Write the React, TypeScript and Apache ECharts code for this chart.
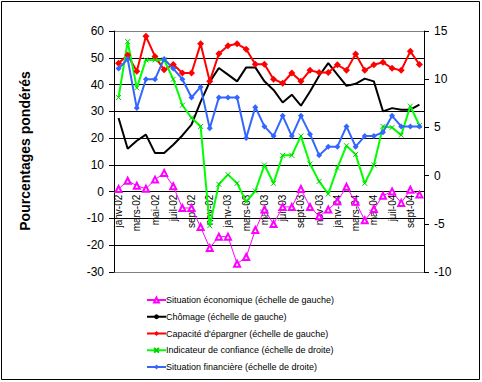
import React, { useEffect, useRef } from "react";
import * as echarts from "echarts";

const categories = [
  "janv-02", "févr-02", "mars-02", "avr-02", "mai-02", "juin-02", "juil-02", "août-02", "sept-02", "oct-02", "nov-02", "déc-02",
  "janv-03", "févr-03", "mars-03", "avr-03", "mai-03", "juin-03", "juil-03", "août-03", "sept-03", "oct-03", "nov-03", "déc-03",
  "janv-04", "févr-04", "mars-04", "avr-04", "mai-04", "juin-04", "juil-04", "août-04", "sept-04", "oct-04",
];

const situationEconomique = [
  1, 4.1, 2.2, 1.1, 4.5, 7, 2, -6.1, -6.1, -13.2, -21, -16.8,
  -16.8, -26.9, -24.4, -14.3, -6.7, -12.1, -5.7, -5.7, 1, -5.7, -9.2, -6.7,
  -3.6, 1.8, -3.8, -10.7, -6.5, -1.5, 0.1, -4.2, 0.7, -1.1,
];

const chomage = [
  27.5, 16, 19, 21.3, 14.4, 14.4, 17.5, 21, 25, 33.5, 41, 46.2,
  43.7, 41.2, 46.4, 46.4, 41.2, 38, 33.3, 36.2, 32.1, 37.4, 43.3, 48,
  43.7, 39.5, 40.3, 42.2, 41.2, 30, 31.2, 30.6, 30.6, 32.5,
];

const capaciteEpargner = [
  48, 51, 45, 58, 50.5, 45.5, 47.5, 44.3, 44.3, 55.2, 41.2, 51.5,
  54.5, 55.2, 53.2, 47.6, 47.6, 42, 40.5, 44.3, 41.2, 45.3, 44.5, 44.5,
  47.4, 45.3, 51.4, 45.3, 47.4, 48.3, 46.1, 45.3, 52.4, 47.5,
];

const indicateurConfiance = [
  8.1, 13.9, 9.1, 12, 12, 12, 10, 7.3, 6, 5.1, -5.2, -0.9,
  0.1, -0.8, -2.7, -1.6, 1.1, -0.8, 2.1, 2.1, 4.1, 1.2, -0.6, -1.9,
  0.8, 3.1, 2.2, -0.8, 1.1, 5.1, 5.0, 4.2, 7.2, 5.2,
];

const situationFinanciere = [
  11.1, 12.1, 7, 10, 10, 12.1, 11.1, 10, 8.1, 9.2, 4.9, 8.1,
  8.1, 8.1, 3.9, 7.1, 5.1, 4.1, 6.2, 4.1, 6.2, 4.3, 2.1, 3.0,
  3.0, 5.1, 3.0, 4.1, 4.1, 4.5, 6.2, 5.1, 5.1, 5.1,
];

const seriesNames = [
  "Situation économique (échelle de gauche)",
  "Chômage (échelle de gauche)",
  "Capacité d'épargner (échelle de gauche)",
  "Indicateur de confiance (échelle de droite)",
  "Situation financière (échelle de droite)",
];

const FONT = "'Liberation Sans', Arial, sans-serif";

export default function App() {
  const ref = useRef<HTMLDivElement>(null);
  useEffect(() => {
    if (!ref.current) return;
    const chart = echarts.init(ref.current, null, { renderer: "svg" });
    const gridColors = ["#808080", "#000", "#000", "#000", "#000", "#000", "#000", "#000", "#000", "#808080"];
    const gridTop = 31;
    const gridHeight = 241;
    const leftMin = -30;
    const leftMax = 60;
    const zeroOffset = -(gridHeight * (0 - leftMin)) / (leftMax - leftMin);
    chart.setOption({
      animation: false,
      backgroundColor: "#fff",
      textStyle: { fontFamily: FONT },
      grid: { left: 114, top: gridTop, width: 310, height: gridHeight, containLabel: false },
      legend: {
        orient: "vertical",
        left: 141,
        top: 290,
        itemWidth: 19,
        itemHeight: 6,
        itemGap: 6.75,
        textStyle: { fontFamily: FONT, fontSize: 9, color: "#000", lineHeight: 10, padding: [0, 0, 0, -5] },
        data: seriesNames,
      },
      xAxis: {
        type: "category",
        data: categories,
        boundaryGap: true,
        offset: zeroOffset,
        axisLine: { onZero: false, lineStyle: { color: "#000", width: 1 } },
        axisTick: { show: false },
        axisLabel: {
          interval: 1,
          rotate: 90,
          fontSize: 10,
          fontFamily: FONT,
          color: "#000",
          margin: 3,
        },
        splitLine: { show: false },
      },
      yAxis: [
        {
          type: "value",
          min: leftMin,
          max: leftMax,
          interval: 10,
          position: "left",
          axisLine: { show: true, lineStyle: { color: "#000" } },
          axisTick: { show: true, inside: false, length: 5, lineStyle: { color: "#000" } },
          axisLabel: { fontSize: 12, fontFamily: FONT, color: "#000", margin: 10 },
          splitLine: { show: true, lineStyle: { color: gridColors, width: 1 } },
        },
        {
          type: "value",
          min: -10,
          max: 15,
          interval: 5,
          position: "right",
          axisLine: { show: true, lineStyle: { color: "#000" } },
          axisTick: { show: true, inside: false, length: 5, lineStyle: { color: "#000" } },
          axisLabel: { fontSize: 12, fontFamily: FONT, color: "#000", margin: 10 },
          splitLine: { show: false },
        },
      ],
      graphic: [
        {
          type: "rect",
          shape: { x: 1.5, y: 1.5, width: 478, height: 378 },
          style: { fill: "none", stroke: "#000", lineWidth: 1 },
          silent: true,
          z: -1,
        },
        {
          type: "text",
          x: 25,
          y: 151,
          rotation: Math.PI / 2,
          style: {
            text: "Pourcentages pondérés",
            font: `bold 14px ${FONT}`,
            fill: "#000",
            textAlign: "center",
            textVerticalAlign: "middle",
          },
        },
      ],
      series: [
        {
          name: seriesNames[0],
          type: "line",
          yAxisIndex: 0,
          data: situationEconomique,
          symbol: "emptyTriangle",
          symbolSize: 6,
          showAllSymbol: true,
          lineStyle: { color: "#FF00FF", width: 1 },
          itemStyle: { color: "#FF00FF", borderWidth: 1 },
        },
        {
          name: seriesNames[1],
          type: "line",
          yAxisIndex: 0,
          data: chomage,
          symbol: "none",
          lineStyle: { color: "#000000", width: 2 },
          itemStyle: { color: "#000000" },
        },
        {
          name: seriesNames[2],
          type: "line",
          yAxisIndex: 0,
          data: capaciteEpargner,
          symbol: "diamond",
          symbolSize: 7,
          showAllSymbol: true,
          lineStyle: { color: "#FF0000", width: 2 },
          itemStyle: { color: "#FF0000" },
        },
        {
          name: seriesNames[3],
          type: "line",
          yAxisIndex: 1,
          data: indicateurConfiance,
          symbol: "path://M0 0L10 10M10 0L0 10",
          symbolSize: 5,
          showAllSymbol: true,
          lineStyle: { color: "#00FF00", width: 2 },
          itemStyle: { color: "#00FF00", borderColor: "#00CC00", borderWidth: 1 },
        },
        {
          name: seriesNames[4],
          type: "line",
          yAxisIndex: 1,
          data: situationFinanciere,
          symbol: "diamond",
          symbolSize: 6,
          showAllSymbol: true,
          lineStyle: { color: "#3366FF", width: 2 },
          itemStyle: { color: "#3366FF" },
        },
      ],
    });
    return () => chart.dispose();
  }, []);
  return (
    <div
      ref={ref}
      style={{ position: "fixed", left: 0, top: 0, width: 482, height: 382 }}
    />
  );
}
